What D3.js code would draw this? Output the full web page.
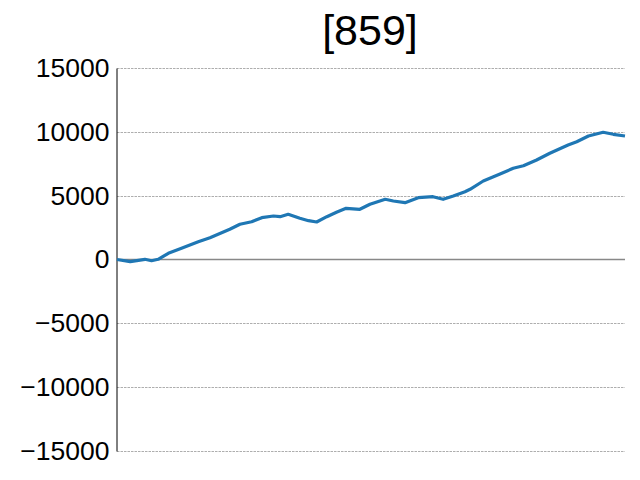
<!DOCTYPE html>
<html><head><meta charset="utf-8">
<script src="https://cdn.jsdelivr.net/npm/d3@7"></script>
<style>body{margin:0;background:#fff}svg{display:block}</style>
</head><body>
<script>
const titleText = "[859]";
const steps = [0,26,55,68,81,101,127,160,183,222,242,265,285,308,321,337,360,377,393,413,432,451,478,498,528,544,567,593,622,642,662,685,695,721,754,780,800,826,852,888,905,928,957,977,1000];
const values = [0,-172,16,-94,16,486,877,1394,1708,2366,2757,2961,3274,3407,3353,3541,3227,3039,2937,3353,3697,4011,3932,4324,4716,4582,4449,4841,4919,4716,4974,5311,5499,6149,6697,7144,7347,7794,8319,8969,9228,9674,9964,9807,9674];
const yTicks = [-15000,-10000,-5000,0,5000,10000,15000];

const W=640,H=480;
const m={left:117,right:15,top:68,bottom:29};
const font='"Liberation Sans",Arial,sans-serif';
const svg=d3.select("body").append("svg").attr("width",W).attr("height",H);
const x=d3.scaleLinear().domain([0,1000]).range([m.left,W-m.right]);
const y=d3.scaleLinear().domain([-15000,15000]).range([H-m.bottom,m.top]);

// grid
svg.append("g").selectAll("line").data(yTicks.filter(d=>d!==0)).join("line")
  .attr("x1",m.left).attr("x2",W-m.right)
  .attr("y1",d=>Math.round(y(d))+0.5).attr("y2",d=>Math.round(y(d))+0.5)
  .attr("stroke","#999").attr("stroke-width",0.8).attr("stroke-dasharray","2.5,1");
// zero line
svg.append("line").attr("x1",m.left).attr("x2",W-m.right)
  .attr("y1",y(0)).attr("y2",y(0)).attr("stroke","#888").attr("stroke-width",1.5);

// axis
const ax=svg.append("g").attr("transform",`translate(${m.left-0.5},0)`)
  .call(d3.axisLeft(y).tickValues(yTicks).tickSize(0).tickPadding(7).tickFormat(d=>d<0?"\u2212"+Math.abs(d):String(d)));
ax.select(".domain").attr("stroke","#000").attr("stroke-width",1);
ax.selectAll("text").attr("font-family",font).attr("font-size",26.5).attr("fill","#000");

// line
const pts=steps.map((s,i)=>[s,values[i]]);
svg.append("path").datum(pts)
  .attr("d",d3.line().x(d=>x(d[0])).y(d=>y(d[1])))
  .attr("fill","none").attr("stroke","#1f77b4").attr("stroke-width",3.2).attr("stroke-linejoin","round");

svg.append("text").attr("x",370).attr("y",45)
  .attr("text-anchor","middle").attr("font-family",font).attr("font-size",43).attr("fill","#000").text(titleText);
</script>
</body></html>
